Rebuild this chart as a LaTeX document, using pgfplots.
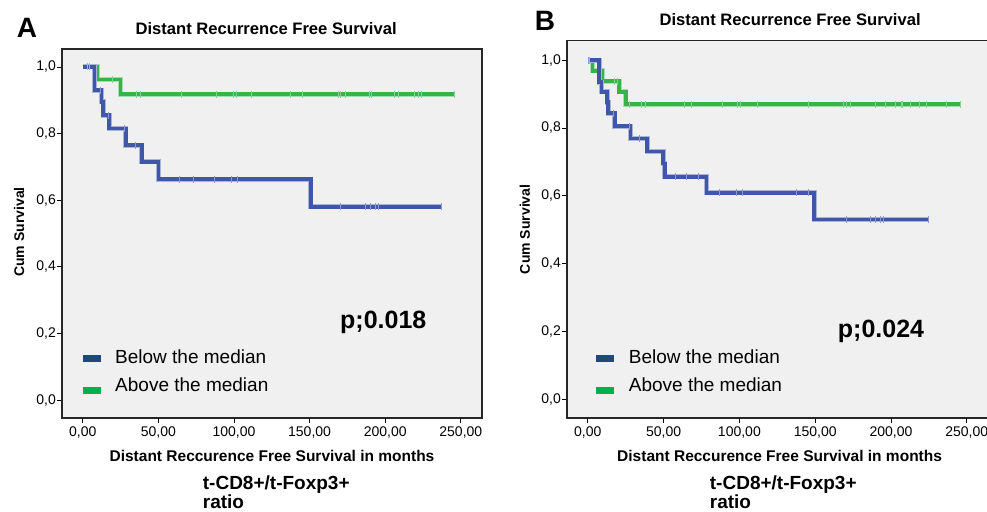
\documentclass[border=0pt]{standalone}
\usepackage{fontspec}
\setmainfont{Liberation Sans}
\usepackage{pgfplots}
\pgfplotsset{compat=1.18}

\definecolor{kmblue}{RGB}{64,87,168}
\definecolor{kmgreen}{RGB}{55,180,73}
\definecolor{legblue}{RGB}{31,73,125}
\definecolor{leggreen}{RGB}{0,176,80}
\definecolor{plotbg}{RGB}{240,240,240}

\pgfplotsset{
  km/.style={
    scale only axis,
    anchor=south west,
    xmin=-13.7, xmax=264, ymin=-0.054,
    xtick={0,50,100,150,200,250},
    ytick={0,0.2,0.4,0.6,0.8,1},
    tick align=outside,
    xtick pos=bottom, ytick pos=left,
    major tick length=5pt,
    every tick/.style={black, line width=0.8pt},
    axis line style={black!85, line width=1.3pt},
    axis background/.style={fill=plotbg},
    ticklabel style={font=\fontsize{14}{16}\selectfont},
    /pgf/number format/.cd, fixed, fixed zerofill, use comma, 1000 sep={}, assume math mode=true,
    /pgfplots/.cd,
    xticklabel style={/pgf/number format/precision=2},
    yticklabel style={/pgf/number format/precision=1, inner xsep=1pt},
    title style={font=\fontsize{16.6}{18}\selectfont\bfseries, anchor=center},
    xlabel style={font=\fontsize{15.5}{17}\selectfont\bfseries, anchor=center},
    ylabel style={font=\fontsize{14}{16}\selectfont\bfseries, anchor=center, rotate=0},
    title={Distant Recurrence Free Survival},
    xlabel={Distant Reccurence Free Survival in months},
    ylabel={Cum Survival},
    clip=false,
  },
  step/.style={const plot, line width=3.6pt, line cap=butt, line join=miter, no marks,
    preaction={draw, line width=5pt, #1!45!white}, #1},
  cens/.style={only marks, mark=|, mark size=3.5pt, #1!60!white, mark options={line width=0.8pt}},
}

\begin{document}
\begin{tikzpicture}[x=1pt, y=1pt]
\path[use as bounding box] (0,0) rectangle (987,511);

% ---------- panel A ----------
\begin{axis}[km, at={(62pt,93pt)}, width=420pt, height=369pt, ymax=1.054,
  title style={at={(rel axis cs:0.486,1.038)}},
  xlabel style={at={(rel axis cs:0.5,-0.102)}},
  ylabel style={at={(rel axis cs:-0.102,0.504)}}]
\addplot[step=kmgreen] coordinates {(0,1) (9.9,0.963) (25.1,0.918) (246,0.918)};
\addplot[cens=kmgreen] coordinates {(3,1) (4.4,1) (19.8,0.963) (35.7,0.918) (37.9,0.918) (65,0.918)
  (88.6,0.918) (99.5,0.918) (101.3,0.918) (111.7,0.918) (137.5,0.918) (145.4,0.918) (169,0.918)
  (170.5,0.918) (174,0.918) (189.4,0.918) (190.6,0.918) (206.4,0.918) (208.6,0.918) (219.2,0.918)
  (221.9,0.918) (224.1,0.918) (246,0.918)};
\addplot[step=kmblue] coordinates {(0,1) (7.7,0.93) (12.5,0.895) (13.6,0.855) (17.4,0.815)
  (28.6,0.765) (39,0.715) (50,0.663) (150.9,0.58) (237.3,0.58)};
\addplot[cens=kmblue] coordinates {(11.5,0.93) (17,0.855) (27.5,0.815) (34.5,0.765) (63.6,0.663)
  (73.5,0.663) (87,0.663) (98,0.663) (102.4,0.663) (170.5,0.58) (187.2,0.58) (190.3,0.58)
  (193.2,0.58) (195.4,0.58) (237.3,0.58)};
\end{axis}

% ---------- panel B ----------
\begin{axis}[km, at={(567pt,93pt)}, width=421pt, height=377.3pt, ymax=1.057,
  title style={at={(rel axis cs:0.530,1.040)}},
  xlabel style={at={(rel axis cs:0.505,-0.100)}},
  ylabel style={at={(rel axis cs:-0.0998,0.5)}}]
\addplot[step=kmgreen] coordinates {(0,1) (3.1,0.968) (9.7,0.938) (20.7,0.906) (25.1,0.870) (245.6,0.870)};
\addplot[cens=kmgreen] coordinates {(1.3,1) (17.8,0.938) (19.3,0.938) (27.3,0.87) (35.4,0.87)
  (38.1,0.87) (63.5,0.87) (68.4,0.87) (88.6,0.87) (98.7,0.87) (100.7,0.87) (111.7,0.87)
  (145.6,0.87) (168.7,0.87) (170.4,0.87) (173.5,0.87) (189.5,0.87) (196.1,0.87) (202.7,0.87)
  (207.1,0.87) (207.8,0.87) (212.6,0.87) (218.8,0.87) (223.6,0.87) (236.8,0.87) (245.6,0.87)};
\addplot[step=kmblue] coordinates {(0,1) (7.5,0.935) (9,0.906) (12.7,0.876) (13.4,0.844)
  (17.8,0.805) (28.2,0.769) (39.1,0.731) (49.7,0.695) (50.8,0.656) (78.3,0.609)
  (149.3,0.531) (224.7,0.531)};
\addplot[cens=kmblue] coordinates {(0.5,1) (17.2,0.844) (27.3,0.805) (33.9,0.769) (57.6,0.656)
  (65.1,0.656) (73.2,0.656) (86.9,0.609) (97.8,0.609) (102.2,0.609) (137.4,0.609) (145.6,0.609)
  (170.4,0.531) (186.2,0.531) (189.5,0.531) (192.8,0.531) (195,0.531) (224.7,0.531)};
\end{axis}

% panel letters, p values, legends, captions
\node[font=\fontsize{28}{30}\selectfont\bfseries] at (27,483) {A};
\node[font=\fontsize{28}{30}\selectfont\bfseries] at (545,490) {B};

\node[font=\fontsize{25}{27}\selectfont\bfseries, anchor=base west, inner sep=0pt] at (340,182.7) {p;0.018};
\node[font=\fontsize{25}{27}\selectfont\bfseries, anchor=base west, inner sep=0pt] at (837.7,173.7) {p;0.024};

\fill[legblue] (82.7,149.3) rectangle (100.7,156);
\fill[leggreen] (82.7,117) rectangle (100.7,124.3);
\node[font=\fontsize{19}{21}\selectfont, anchor=base west, inner sep=0pt] at (115,147.7) {Below the median};
\node[font=\fontsize{19}{21}\selectfont, anchor=base west, inner sep=0pt] at (115,119.3) {Above the median};

\fill[legblue] (596.3,149.3) rectangle (614.3,156);
\fill[leggreen] (596.3,117) rectangle (614.3,124.3);
\node[font=\fontsize{19}{21}\selectfont, anchor=base west, inner sep=0pt] at (628.7,147.7) {Below the median};
\node[font=\fontsize{19}{21}\selectfont, anchor=base west, inner sep=0pt] at (628.7,119.3) {Above the median};

\node[font=\fontsize{19}{21}\selectfont\bfseries, anchor=base west, inner sep=0pt] at (202.7,22) {t-CD8+/t-Foxp3+};
\node[font=\fontsize{19}{21}\selectfont\bfseries, anchor=base west, inner sep=0pt] at (202.7,2) {ratio};
\node[font=\fontsize{19}{21}\selectfont\bfseries, anchor=base west, inner sep=0pt] at (709.7,22) {t-CD8+/t-Foxp3+};
\node[font=\fontsize{19}{21}\selectfont\bfseries, anchor=base west, inner sep=0pt] at (709.7,2) {ratio};
\end{tikzpicture}
\end{document}
